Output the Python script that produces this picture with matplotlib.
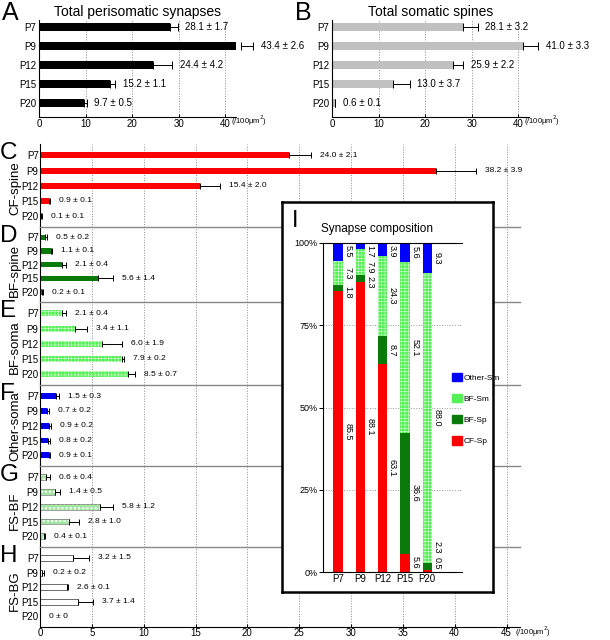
import matplotlib
matplotlib.use('Agg')
import matplotlib.pyplot as plt
from matplotlib.patches import Patch
import numpy as np

plt.rcParams['font.family'] = ['Liberation Sans', 'DejaVu Sans']
plt.rcParams['hatch.color'] = 'white'
plt.rcParams['hatch.linewidth'] = 0.3

# ---- data ----
ages = ['P7', 'P9', 'P12', 'P15', 'P20']

total_peri = [28.1, 43.4, 24.4, 15.2, 9.7]
total_peri_sem = [1.7, 2.6, 4.2, 1.1, 0.5]
total_spine = [28.1, 41.0, 25.9, 13.0, 0.6]
total_spine_sem = [3.2, 3.3, 2.2, 3.7, 0.1]

cf_spine = [24.0, 38.2, 15.4, 0.9, 0.1]
cf_spine_sem = [2.1, 3.9, 2.0, 0.1, 0.1]
bf_spine = [0.5, 1.1, 2.1, 5.6, 0.2]
bf_spine_sem = [0.2, 0.1, 0.4, 1.4, 0.1]
bf_soma = [2.1, 3.4, 6.0, 7.9, 8.5]
bf_soma_sem = [0.4, 1.1, 1.9, 0.2, 0.7]
other_soma = [1.5, 0.7, 0.9, 0.8, 0.9]
other_soma_sem = [0.3, 0.2, 0.2, 0.2, 0.1]
fs_bf = [0.6, 1.4, 5.8, 2.8, 0.4]
fs_bf_sem = [0.4, 0.5, 1.2, 1.0, 0.1]
fs_bg = [3.2, 0.2, 2.6, 3.7, 0]
fs_bg_sem = [1.5, 0.2, 0.1, 1.4, 0]

comp_names = ['CF-Sp', 'BF-Sp', 'BF-Sm', 'Other-Sm']
comp_cf = [85.5, 88.1, 63.1, 5.6, 0.5]
comp_bfsp = [1.8, 2.3, 8.7, 36.6, 2.3]
comp_bfsm = [7.3, 7.9, 24.3, 52.1, 88.0]
comp_other = [5.5, 1.7, 3.9, 5.6, 9.3]

W, H = 610, 640
fig = plt.figure(figsize=(W / 100, H / 100), dpi=100)


def frac(left, top, right, bottom):
    return [left / W, 1 - bottom / H, (right - left) / W, (bottom - top) / H]


def label_txt(v, s):
    if v == 0 and s == 0:
        return '0 \u00b1 0'
    return f'{v:.1f} \u00b1 {s:.1f}'


def hbars(ax, vals, sems, style, height, capsize, txt_size, gap):
    y = np.arange(len(vals))
    ax.barh(y, vals, height=height, zorder=2, **style)
    ax.errorbar(vals, y, xerr=[np.zeros(len(vals)), sems], fmt='none',
                ecolor='black', elinewidth=0.7, capsize=capsize,
                capthick=0.7, zorder=3, clip_on=False)
    for i, (v, s) in enumerate(zip(vals, sems)):
        ax.annotate(label_txt(v, s), xy=(v + s, i), xytext=(gap, 0),
                    textcoords='offset points', va='center', ha='left',
                    fontsize=txt_size, annotation_clip=False)


def top_panel(rect, vals, sems, color, title, letter, unit_x):
    ax = fig.add_axes(frac(*rect))
    hbars(ax, vals, sems, dict(color=color), 0.45, 3.2, 7, 5.5)
    ax.set_xlim(0, 42.3)
    ax.set_ylim(4.74, -0.37)
    ax.set_xticks([0, 10, 20, 30, 40])
    ax.set_yticks(range(5))
    ax.set_yticklabels(ages)
    ax.tick_params(axis='y', length=0, pad=2, labelsize=7)
    ax.tick_params(axis='x', direction='in', length=2, width=0.7, pad=1.5,
                   labelsize=7)
    ax.grid(axis='x', linestyle=':', color='#888888', linewidth=0.7)
    for s in ['top', 'right']:
        ax.spines[s].set_visible(False)
    ax.spines['left'].set_linewidth(0.8)
    ax.spines['bottom'].set_linewidth(0.8)
    ax.set_axisbelow(True)
    ax.set_title(title, fontsize=10, pad=3)
    fig.text(unit_x / W, 1 - 121 / H, '(/100\u03bcm$^2$)', fontsize=5.5,
             ha='left', va='center')
    fig.text((rect[0] - 37) / W, 1 - 1 / H, letter, fontsize=18,
             ha='left', va='top')
    return ax


top_panel((39, 20, 236, 117), total_peri, total_peri_sem, 'black',
          'Total perisomatic synapses', 'A', 231)
top_panel((332, 20, 529, 117), total_spine, total_spine_sem, '#c0c0c0',
          'Total somatic spines', 'B', 524)

# ---- stacked panels C-H ----
bounds = [144, 227, 302, 385, 466, 547, 627]
panels = [
    ('C', 'CF-spine', cf_spine, cf_spine_sem,
     dict(color='#ff0000')),
    ('D', 'BF-spine', bf_spine, bf_spine_sem,
     dict(color='#0a7a0a')),
    ('E', 'BF-soma', bf_soma, bf_soma_sem,
     dict(color='#55f055', hatch='+++++')),
    ('F', 'Other-soma', other_soma, other_soma_sem,
     dict(color='#0000ee')),
    ('G', 'FS-BF', fs_bf, fs_bf_sem,
     dict(color='#a0e6a0', hatch='oooo')),
    ('H', 'FS-BG', fs_bg, fs_bg_sem,
     dict(color='white', edgecolor='#555555', linewidth=0.6)),
]
label_shift = [3, 6, 4, 1, 4, 4]

for k, (letter, name, vals, sems, style) in enumerate(panels):
    top, bot = bounds[k], bounds[k + 1]
    ax = fig.add_axes(frac(40, top, 520, bot))
    hbars(ax, vals, sems, style, 0.4, 2.3, 6, 6.5)
    if letter == 'G':
        ax.barh(np.arange(5), vals, height=0.4, fill=False,
                edgecolor='#777777', linewidth=0.5, zorder=2)
    ax.set_xlim(0, 46.3)
    ax.set_ylim(4.72, -0.75)
    ax.set_xticks(np.arange(0, 50, 5))
    ax.set_yticks(range(5))
    ax.set_yticklabels(ages)
    ax.tick_params(axis='y', length=0, pad=1, labelsize=7)
    ax.grid(axis='x', linestyle=':', color='#888888', linewidth=0.7)
    ax.set_axisbelow(True)
    ax.patch.set_alpha(0)
    ax.spines['right'].set_visible(False)
    ax.spines['left'].set_linewidth(0.8)
    if k == 0:
        ax.spines['top'].set_visible(False)
    else:
        ax.spines['top'].set_color('#888888')
        ax.spines['top'].set_linewidth(1.0)
    if k == len(panels) - 1:
        ax.spines['bottom'].set_linewidth(0.8)
        ax.tick_params(axis='x', direction='in', length=2, width=0.7,
                       pad=1, labelsize=7)
    else:
        ax.spines['bottom'].set_visible(False)
        ax.tick_params(axis='x', length=0, labelbottom=False)
    fig.text(15 / W, 1 - ((top + bot) / 2 + label_shift[k]) / H, name,
             rotation=90, fontsize=9.5, ha='center', va='center')
    fig.text(0, 1 - (top - 2) / H, letter, fontsize=17.5, ha='left',
             va='top')

fig.text(515 / W, 1 - 632 / H, '(/100\u03bcm$^2$)', fontsize=5.5,
         ha='left', va='center')

# ---- inset I: synapse composition ----
box = fig.add_axes(frac(282, 202, 493, 592), zorder=5)
box.set_xticks([])
box.set_yticks([])
for s in box.spines.values():
    s.set_linewidth(1.8)
fig.text(292 / W, 1 - 210 / H, 'I', fontsize=17, ha='left', va='top',
         zorder=8)

inner = fig.add_axes(frac(323, 243, 462, 572), zorder=6)
inner.patch.set_alpha(0)
x = np.arange(len(ages))
comp_vals = [comp_cf, comp_bfsp, comp_bfsm, comp_other]
comp_styles = [dict(color='#ff0000'), dict(color='#0a7a0a'),
               dict(color='#55f055', hatch='+++++'), dict(color='#0000ff')]
bottom = np.zeros(len(ages))
for vals, st in zip(comp_vals, comp_styles):
    inner.bar(x, vals, width=0.42, bottom=bottom, zorder=2, **st)
    bottom += np.array(vals)

# segment labels: centred, nudged apart where segments are thin
for j in range(len(ages)):
    segs = []
    b = 0
    for vals in comp_vals:
        v = vals[j]
        segs.append((b, v, f'{v:.1f}'))
        b += v
    pos = {}
    floor = 0.6
    for i, (b, v, t) in enumerate(segs):
        if b + v / 2 >= 50:
            continue
        L = len(t) * 1.45
        c = b + v / 2 if v >= 3 else b + L / 2
        c = max(c, floor + L / 2)
        pos[i] = c
        floor = c + L / 2 + 0.3
    ceil = 100.0
    for i in reversed(range(len(segs))):
        b, v, t = segs[i]
        if b + v / 2 < 50:
            continue
        L = len(t) * 1.45
        c = b + v / 2 if v >= 3 else b + v - L / 2
        c = min(c, ceil - L / 2 - 0.4)
        pos[i] = c
        ceil = c - L / 2
    for i, (b, v, t) in enumerate(segs):
        inner.text(j + 0.24, pos[i], t, rotation=270, fontsize=6.5,
                   ha='left', va='center')

inner.set_xlim(-0.67, 5.56)
inner.set_ylim(0, 100)
inner.set_xticks(x)
inner.set_xticklabels(ages)
inner.set_yticks([0, 25, 50, 75, 100])
inner.set_yticklabels(['0%', '25%', '50%', '75%', '100%'])
inner.tick_params(axis='x', length=0, pad=1.5, labelsize=7)
inner.tick_params(axis='y', length=3, width=0.7, pad=1, labelsize=6.5)
inner.grid(axis='y', linestyle=':', color='#999999', linewidth=0.7)
inner.set_axisbelow(True)
inner.spines['right'].set_visible(False)
for s in ['top', 'left', 'bottom']:
    inner.spines[s].set_linewidth(0.8)
inner.text(-0.015, 1.025, 'Synapse composition', transform=inner.transAxes,
           fontsize=8.5, ha='left', va='bottom')

handles = [Patch(**comp_styles[3]), Patch(**comp_styles[2]),
           Patch(**comp_styles[1]), Patch(**comp_styles[0])]
leg_labels = ['Other-Sm', 'BF-Sm', 'BF-Sp', 'CF-Sp']
fig.legend(handles, leg_labels, loc='upper left',
           bbox_to_anchor=(444 / W, 1 - 365 / H), frameon=False,
           fontsize=6, labelspacing=1.45, handlelength=1.2,
           handleheight=1.2, handletextpad=0.25).set_zorder(7)

fig.savefig('out.png', dpi=100)
